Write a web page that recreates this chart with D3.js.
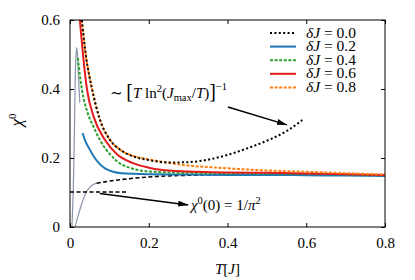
<!DOCTYPE html>
<meta charset="utf-8">
<style>
  body { margin: 0; background: #fff; }
  svg text { font-family: "Liberation Serif", "DejaVu Serif", serif !important; fill: #000; }
</style>
<script src="https://d3js.org/d3.v7.min.js"></script>
<div id="chart"></div>
<script>
// values: [T, chi0]
var xTicks = [0, 0.2, 0.4, 0.6, 0.8];
var yTicks = [0, 0.2, 0.4, 0.6];
var legendLabels = ["0.0", "0.2", "0.4", "0.6", "0.8"];

var dj00 = [[0.03,0.6],[0.04,0.5],[0.056,0.4],[0.075,0.315],[0.1,0.255],[0.13,0.222],[0.16,0.205],[0.2,0.194],[0.25,0.187],[0.3,0.188],[0.35,0.195],[0.4,0.209],[0.45,0.228],[0.5,0.25],[0.55,0.278],[0.59,0.31]];
var dj02 = [[0.032,0.272],[0.038,0.252],[0.05,0.225],[0.06,0.205],[0.075,0.183],[0.09,0.169],[0.11,0.16],[0.13,0.156],[0.2,0.153],[0.3,0.152],[0.4,0.151],[0.5,0.151],[0.6,0.15],[0.7,0.149],[0.8,0.148]];
var dj04 = [[0.02,0.49],[0.025,0.44],[0.03,0.4],[0.045,0.33],[0.06,0.29],[0.076,0.252],[0.1,0.213],[0.12,0.19],[0.16,0.169],[0.2,0.161],[0.3,0.157],[0.4,0.156],[0.5,0.155],[0.6,0.154],[0.7,0.152],[0.8,0.15]];
var dj06 = [[0.025,0.6],[0.033,0.5],[0.043,0.4],[0.06,0.32],[0.089,0.252],[0.12,0.21],[0.16,0.185],[0.2,0.172],[0.23,0.166],[0.3,0.161],[0.4,0.158],[0.5,0.157],[0.6,0.155],[0.7,0.153],[0.8,0.151]];
var dj08 = [[0.03,0.6],[0.04,0.5],[0.056,0.4],[0.075,0.315],[0.1,0.255],[0.13,0.222],[0.16,0.206],[0.2,0.196],[0.25,0.186],[0.3,0.178],[0.35,0.174],[0.4,0.17],[0.5,0.164],[0.6,0.16],[0.7,0.156],[0.8,0.152]];
var graySpike = [[0.005,0],[0.008,0.1],[0.01,0.2],[0.012,0.33],[0.013,0.42],[0.015,0.49],[0.017,0.52],[0.019,0.5],[0.021,0.45],[0.023,0.4],[0.025,0.36]];
var grayRise = [[0.013,0],[0.02,0.03],[0.03,0.068],[0.04,0.098],[0.05,0.115],[0.06,0.124],[0.07,0.128]];
var lowT = [[0.068,0.127],[0.1,0.133],[0.15,0.14],[0.2,0.145],[0.3,0.15],[0.4,0.152],[0.6,0.152],[0.8,0.151]];
var chiZero = 1 / (Math.PI * Math.PI);
var chiZeroEnd = 0.147;

var width = 415, height = 280;
var margin = {top: 20, right: 30, bottom: 53, left: 70};

var svg = d3.select("#chart").append("svg")
  .attr("width", width)
  .attr("height", height);

var x = d3.scaleLinear().domain([0, 0.8]).range([margin.left, width - margin.right]);
var y = d3.scaleLinear().domain([0, 0.6]).range([height - margin.bottom, margin.top]);

var fmt = function(d) { return d === 0 ? "0" : d3.format(".1f")(d); };

svg.append("defs").append("clipPath").attr("id", "clip")
  .append("rect")
  .attr("x", x(0)).attr("y", y(0.6))
  .attr("width", x(0.8) - x(0)).attr("height", y(0) - y(0.6));

svg.select("defs").append("marker")
  .attr("id", "head")
  .attr("viewBox", "0 0 10 6")
  .attr("refX", 10).attr("refY", 3)
  .attr("markerWidth", 10).attr("markerHeight", 6)
  .attr("markerUnits", "userSpaceOnUse")
  .attr("orient", "auto")
  .append("path").attr("d", "M0,0L10,3L0,6Z").attr("fill", "#000");

var line = d3.line().x(function(d) { return x(d[0]); }).y(function(d) { return y(d[1]); }).curve(d3.curveMonotoneX);
var lineFree = d3.line().x(function(d) { return x(d[0]); }).y(function(d) { return y(d[1]); }).curve(d3.curveCatmullRom);

var plot = svg.append("g").attr("clip-path", "url(#clip)");

plot.append("path").attr("d", lineFree(graySpike))
  .attr("fill", "none").attr("stroke", "#8a94aa").attr("stroke-width", 1.2);
plot.append("path").attr("d", line(grayRise))
  .attr("fill", "none").attr("stroke", "#8a94aa").attr("stroke-width", 1.2);
plot.append("path").attr("d", line(lowT))
  .attr("fill", "none").attr("stroke", "#000").attr("stroke-width", 1.6).attr("stroke-dasharray", "4,2.5");
plot.append("path").attr("d", line([[0, chiZero], [chiZeroEnd, chiZero]]))
  .attr("fill", "none").attr("stroke", "#000").attr("stroke-width", 1.6).attr("stroke-dasharray", "4,2.5");

var series = [
  {data: dj02, color: "#1f77b4", dash: null},
  {data: dj04, color: "#2ca02c", dash: "3,1.6"},
  {data: dj06, color: "#e41a1c", dash: null},
  {data: dj08, color: "#ff7f0e", dash: "3,1.6"},
  {data: dj00, color: "#000", dash: "2,2.4"}
];
series.forEach(function(s) {
  plot.append("path").attr("d", line(s.data))
    .attr("fill", "none").attr("stroke", s.color).attr("stroke-width", 2)
    .attr("stroke-dasharray", s.dash);
});

// frame
svg.append("rect")
  .attr("x", x(0)).attr("y", y(0.6))
  .attr("width", x(0.8) - x(0)).attr("height", y(0) - y(0.6))
  .attr("fill", "none").attr("stroke", "#000").attr("stroke-width", 1);

// axes with inward ticks
svg.append("g").attr("transform", "translate(0," + y(0) + ")")
  .call(d3.axisBottom(x).tickValues(xTicks).tickFormat(fmt).tickSizeInner(-4).tickSizeOuter(0).tickPadding(10));
svg.append("g").attr("transform", "translate(" + x(0) + ",0)")
  .call(d3.axisLeft(y).tickValues(yTicks).tickFormat(fmt).tickSizeInner(-4).tickSizeOuter(0).tickPadding(10));
svg.append("g").attr("transform", "translate(0," + y(0.6) + ")")
  .call(d3.axisTop(x).tickValues(xTicks).tickFormat("").tickSizeInner(-4).tickSizeOuter(0));
svg.append("g").attr("transform", "translate(" + x(0.8) + ",0)")
  .call(d3.axisRight(y).tickValues(yTicks).tickFormat("").tickSizeInner(-4).tickSizeOuter(0));
svg.selectAll(".domain").remove();
svg.selectAll(".tick line").attr("stroke", "#000");
svg.selectAll(".tick text").attr("font-size", null).style("font-size", "15px");

// axis labels
var xl = svg.append("text").attr("x", x(0.4)).attr("y", 274).attr("text-anchor", "middle").style("font-size", "15px");
xl.append("tspan").style("font-style", "italic").text("T");
xl.append("tspan").text("[");
xl.append("tspan").style("font-style", "italic").text("J");
xl.append("tspan").text("]");

var yl = svg.append("text").attr("transform", "translate(22," + y(0.31) + ") rotate(-90)").attr("text-anchor", "middle").style("font-size", "17px");
yl.append("tspan").style("font-style", "italic").text("χ");
yl.append("tspan").attr("dy", -6).style("font-size", "11px").text("0");

// legend
var legend = svg.append("g");
var legendSeries = [series[4], series[0], series[1], series[2], series[3]];
legendSeries.forEach(function(s, i) {
  var yy = 33 + i * 13.6;
  legend.append("line").attr("x1", 270).attr("x2", 296).attr("y1", yy).attr("y2", yy)
    .attr("stroke", s.color).attr("stroke-width", 2).attr("stroke-dasharray", s.dash);
  var t = legend.append("text").attr("x", 306).attr("y", yy + 4.5).style("font-size", "15.5px");
  t.append("tspan").style("font-style", "italic").text("δJ");
  t.append("tspan").text(" = " + legendLabels[i]);
});

// annotations
var a1 = svg.append("text").attr("x", 110).attr("y", 98).style("font-size", "15px");
a1.append("tspan").text("∼ ");
a1.append("tspan").style("font-size", "20px").text("[");
a1.append("tspan").style("font-style", "italic").text("T");
a1.append("tspan").text(" ln");
a1.append("tspan").attr("dy", -6).style("font-size", "10.5px").text("2");
a1.append("tspan").attr("dy", 6).text("(");
a1.append("tspan").style("font-style", "italic").text("J");
a1.append("tspan").attr("dy", 3).style("font-size", "10.5px").text("max");
a1.append("tspan").attr("dy", -3).text("/");
a1.append("tspan").style("font-style", "italic").text("T");
a1.append("tspan").text(")");
a1.append("tspan").style("font-size", "20px").text("]");
a1.append("tspan").attr("dy", -8).style("font-size", "10.5px").text("−1");

svg.append("line")
  .attr("x1", x(0.401)).attr("y1", y(0.348)).attr("x2", x(0.551)).attr("y2", y(0.296))
  .attr("stroke", "#000").attr("stroke-width", 1.5).attr("marker-end", "url(#head)");

svg.append("line")
  .attr("x1", x(0.076)).attr("y1", y(0.097)).attr("x2", x(0.3)).attr("y2", y(0.064))
  .attr("stroke", "#000").attr("stroke-width", 1.5).attr("marker-end", "url(#head)");

var a2 = svg.append("text").attr("x", 191).attr("y", 210).style("font-size", "15px");
a2.append("tspan").style("font-style", "italic").text("χ");
a2.append("tspan").attr("dy", -6).style("font-size", "10.5px").text("0");
a2.append("tspan").attr("dy", 6).text("(0) = 1/");
a2.append("tspan").style("font-style", "italic").text("π");
a2.append("tspan").attr("dy", -6).style("font-size", "10.5px").text("2");
</script>
